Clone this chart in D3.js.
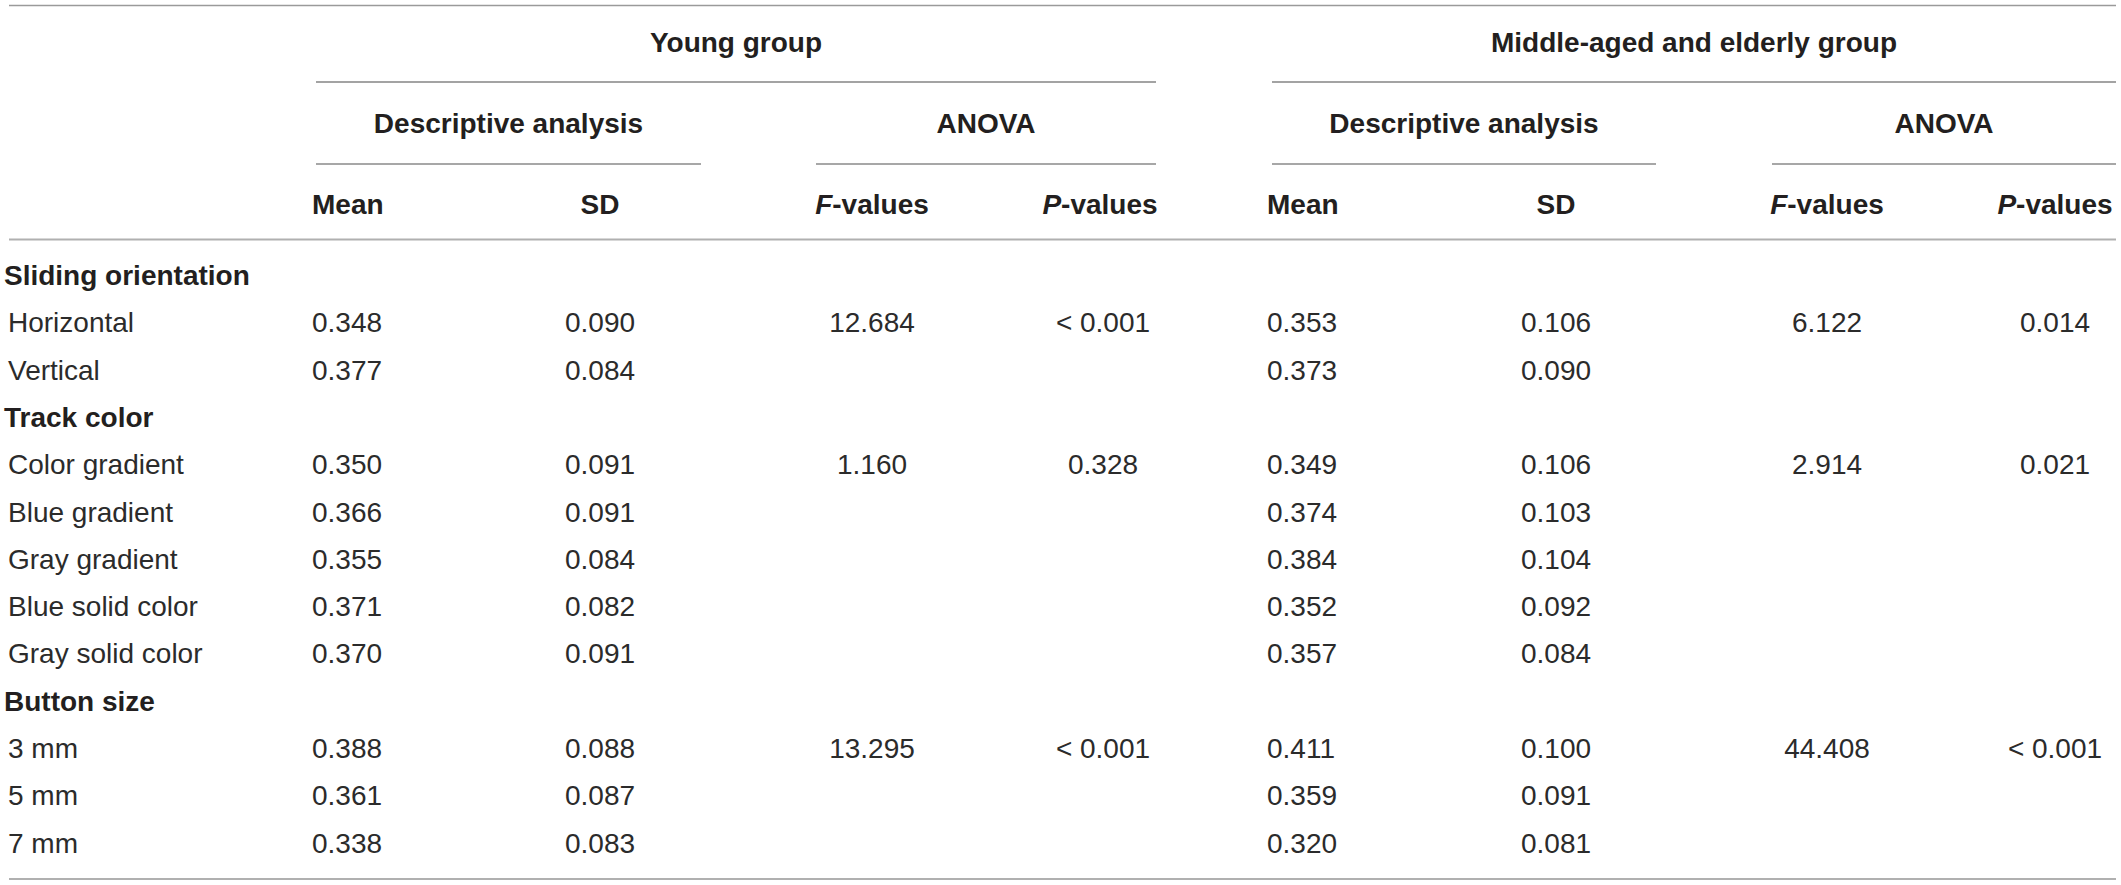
<!DOCTYPE html>
<html>
<head>
<meta charset="utf-8">
<script src="https://cdn.jsdelivr.net/npm/d3@7"></script>
<style>
  html, body { margin: 0; padding: 0; background: #ffffff; }
  svg { display: block; }
  text { font-family: "Liberation Sans", Arial, Helvetica, sans-serif; fill: #231f20; }
  text.body { fill: #2b2b2b; }
</style>
</head>
<body>
<svg id="chart" width="2121" height="885"></svg>
<script>
// ---------- data ----------
const groupHeaders = ["Young group", "Middle-aged and elderly group"];
const subHeaders = ["Descriptive analysis", "ANOVA"];
const columnHeaders = ["Mean", "SD", "F-values", "P-values"];

const rowLabels = [
  "Sliding orientation", "Horizontal", "Vertical",
  "Track color", "Color gradient", "Blue gradient", "Gray gradient", "Blue solid color", "Gray solid color",
  "Button size", "3 mm", "5 mm", "7 mm"
];
const rowIsFactor = [true, false, false, true, false, false, false, false, false, true, false, false, false];

const youngMean = [null, 0.348, 0.377, null, 0.350, 0.366, 0.355, 0.371, 0.370, null, 0.388, 0.361, 0.338];
const youngSD   = [null, 0.090, 0.084, null, 0.091, 0.091, 0.084, 0.082, 0.091, null, 0.088, 0.087, 0.083];
const youngF    = [null, 12.684, null, null, 1.160, null, null, null, null, null, 13.295, null, null];
const youngP    = [null, "< 0.001", null, null, "0.328", null, null, null, null, null, "< 0.001", null, null];

const oldMean = [null, 0.353, 0.373, null, 0.349, 0.374, 0.384, 0.352, 0.357, null, 0.411, 0.359, 0.320];
const oldSD   = [null, 0.106, 0.090, null, 0.106, 0.103, 0.104, 0.092, 0.084, null, 0.100, 0.091, 0.081];
const oldF    = [null, 6.122, null, null, 2.914, null, null, null, null, null, 44.408, null, null];
const oldP    = [null, "0.014", null, null, "0.021", null, null, null, null, null, "< 0.001", null, null];

// ---------- layout ----------
const W = 2121, H = 885;
const svg = d3.select("#chart");
svg.append("rect").attr("width", W).attr("height", H).attr("fill", "#ffffff");

const fmt3 = d3.format(".3f");
const FS = 28;

// row baselines via a linear scale on row index
const yRow = d3.scaleLinear().domain([0, rowLabels.length - 1]).range([285, 852.6]);

// column geometry for each group block
const blocks = [
  { name: groupHeaders[0], left: 316, right: 1156, descR: 701, anovaL: 816,
    meanX: 312, sdX: 600, fX: 872, pX: 1100, pBodyX: 1103,
    mean: youngMean, sd: youngSD, f: youngF, p: youngP },
  { name: groupHeaders[1], left: 1272, right: 2116, descR: 1656, anovaL: 1772,
    meanX: 1267, sdX: 1556, fX: 1827, pX: 2055, pBodyX: 2055,
    mean: oldMean, sd: oldSD, f: oldF, p: oldP }
];

function rule(x1, x2, y, color, w) {
  svg.append("line")
    .attr("x1", x1).attr("x2", x2).attr("y1", y).attr("y2", y)
    .attr("stroke", color).attr("stroke-width", w);
}

// outer rules
rule(9, 2116, 5.5, "#9a9a9a", 1.6);
rule(9, 2116, 239.5, "#b0b0b0", 2);
rule(9, 2116, 879, "#b0b0b0", 2);

const boldY1 = 52, boldY2 = 133, boldY3 = 214;

blocks.forEach(b => {
  // group header
  svg.append("text")
    .attr("x", (b.left + b.right) / 2).attr("y", boldY1)
    .attr("text-anchor", "middle").attr("font-size", FS).attr("font-weight", "bold")
    .text(b.name);
  rule(b.left, b.right, 82, "#858585", 1.6);

  // sub headers
  svg.append("text")
    .attr("x", (b.left + b.descR) / 2).attr("y", boldY2)
    .attr("text-anchor", "middle").attr("font-size", FS).attr("font-weight", "bold")
    .text(subHeaders[0]);
  svg.append("text")
    .attr("x", (b.anovaL + b.right) / 2).attr("y", boldY2)
    .attr("text-anchor", "middle").attr("font-size", FS).attr("font-weight", "bold")
    .text(subHeaders[1]);
  rule(b.left, b.descR, 164, "#8a8a8a", 1.6);
  rule(b.anovaL, b.right, 164, "#8a8a8a", 1.6);

  // column headers
  svg.append("text").attr("x", b.meanX).attr("y", boldY3)
    .attr("font-size", FS).attr("font-weight", "bold").text(columnHeaders[0]);
  svg.append("text").attr("x", b.sdX).attr("y", boldY3).attr("text-anchor", "middle")
    .attr("font-size", FS).attr("font-weight", "bold").text(columnHeaders[1]);
  [[b.fX, columnHeaders[2]], [b.pX, columnHeaders[3]]].forEach(([x, label]) => {
    const t = svg.append("text").attr("x", x).attr("y", boldY3).attr("text-anchor", "middle")
      .attr("font-size", FS).attr("font-weight", "bold");
    t.append("tspan").attr("font-style", "italic").text(label.slice(0, 1));
    t.append("tspan").text(label.slice(1));
  });

  // body cells
  const idx = d3.range(rowLabels.length);
  svg.selectAll(null).data(idx.filter(i => b.mean[i] != null)).enter().append("text")
    .attr("class", "body")
    .attr("x", b.meanX).attr("y", i => yRow(i)).attr("font-size", FS)
    .text(i => fmt3(b.mean[i]));
  svg.selectAll(null).data(idx.filter(i => b.sd[i] != null)).enter().append("text")
    .attr("class", "body")
    .attr("x", b.sdX).attr("y", i => yRow(i)).attr("text-anchor", "middle").attr("font-size", FS)
    .text(i => fmt3(b.sd[i]));
  svg.selectAll(null).data(idx.filter(i => b.f[i] != null)).enter().append("text")
    .attr("class", "body")
    .attr("x", b.fX).attr("y", i => yRow(i)).attr("text-anchor", "middle").attr("font-size", FS)
    .text(i => fmt3(b.f[i]));
  svg.selectAll(null).data(idx.filter(i => b.p[i] != null)).enter().append("text")
    .attr("class", "body")
    .attr("x", b.pBodyX).attr("y", i => yRow(i)).attr("text-anchor", "middle").attr("font-size", FS)
    .text(i => b.p[i]);
});

// row labels
svg.selectAll(null).data(rowLabels).enter().append("text")
  .attr("class", (d, i) => rowIsFactor[i] ? "factor" : "body")
  .attr("x", (d, i) => rowIsFactor[i] ? 4 : 8)
  .attr("y", (d, i) => yRow(i))
  .attr("font-size", FS)
  .attr("font-weight", (d, i) => rowIsFactor[i] ? "bold" : "normal")
  .text(d => d);
</script>
</body>
</html>
